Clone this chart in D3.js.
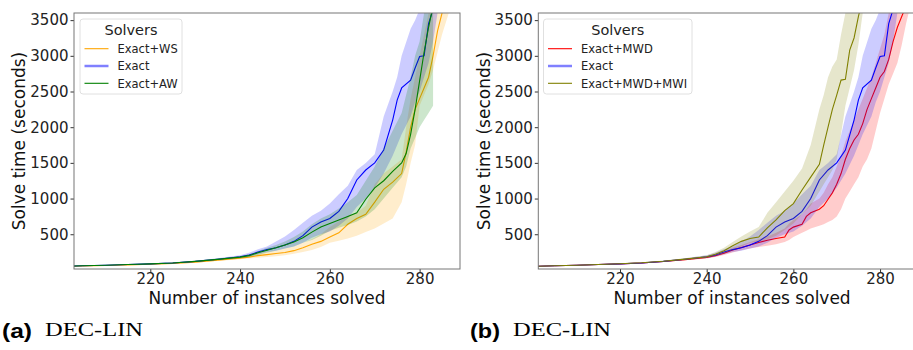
<!DOCTYPE html>
<html lang="en">
<head>
<meta charset="UTF-8">
<title>Solve time vs instances solved</title>
<script src="https://d3js.org/d3.v7.min.js"></script>
<style>
  body { margin: 0; background: #fff; }
  svg { display: block; font-family: "DejaVu Sans", sans-serif; }
  .tick text { font-size: 15px; fill: #222; font-family: "DejaVu Sans", sans-serif; }
  .tick line { stroke: #333; }
  .domain { display: none; }
</style>
</head>
<body>
<svg id="chart" width="913" height="350"></svg>
<script>
// ---- data ----
const yTicks = [500, 1000, 1500, 2000, 2500, 3000, 3500];
const xTicks = [220, 240, 260, 280];

// Exact (shared by both panels)
const exactX    = [200, 205, 210, 215, 220, 225, 230, 235, 240, 242, 244, 246, 248, 250, 252, 254, 256, 258, 260, 262, 264, 266, 268, 270, 272, 274, 275, 276, 278, 279, 280, 281, 282, 283, 284];
const exactMean = [50, 58, 66, 75, 85, 98, 120, 150, 185, 210, 250, 285, 310, 350, 400, 480, 600, 670, 720, 820, 1000, 1260, 1400, 1500, 1680, 2100, 2380, 2550, 2660, 2830, 2990, 3000, 3450, 3650, 3800];
const exactHi   = [52, 61, 70, 80, 92, 106, 130, 165, 205, 240, 290, 330, 400, 470, 560, 660, 760, 830, 930, 1060, 1180, 1400, 1500, 1620, 2150, 2500, 2700, 3000, 3380, 3500, 3650, 3800, 3900, 4000, 4100];
const exactLo   = [48, 55, 62, 70, 79, 90, 110, 138, 168, 185, 220, 250, 270, 300, 330, 380, 450, 500, 540, 620, 720, 880, 1000, 1150, 1350, 1600, 1750, 1900, 2150, 2350, 2500, 2700, 2900, 3200, 3600];

// Exact+WS
const wsX    = [200, 205, 210, 215, 220, 225, 230, 235, 240, 242, 244, 246, 248, 250, 252, 254, 256, 258, 260, 262, 264, 266, 268, 270, 272, 274, 276, 277, 278, 279, 280, 281, 282, 283, 284, 285, 286, 287];
const wsMean = [48, 55, 62, 70, 80, 92, 110, 138, 165, 180, 200, 215, 230, 245, 270, 310, 360, 400, 460, 520, 640, 720, 780, 950, 1130, 1230, 1350, 1650, 2000, 2250, 2400, 2550, 2700, 3000, 3350, 3600, 3800, 3900];
const wsHi   = [51, 59, 67, 76, 87, 100, 120, 150, 180, 200, 225, 250, 270, 300, 330, 380, 430, 500, 600, 680, 760, 800, 900, 1200, 1350, 1450, 1550, 2000, 2400, 2700, 3000, 3300, 3600, 3800, 3900, 4000, 4000, 4000];
const wsLo   = [45, 52, 58, 65, 74, 85, 100, 125, 150, 160, 170, 180, 190, 205, 225, 250, 280, 320, 380, 410, 440, 480, 530, 580, 650, 720, 950, 1200, 1500, 1750, 2300, 2450, 2600, 2800, 3050, 3300, 3500, 3700];

// Exact+AW
const awX    = [200, 205, 210, 215, 220, 225, 230, 235, 240, 242, 244, 246, 248, 250, 252, 254, 256, 258, 260, 262, 264, 266, 268, 270, 272, 274, 276, 277, 278, 279, 280, 281, 282, 283];
const awMean = [50, 58, 66, 75, 85, 98, 120, 148, 180, 200, 240, 275, 310, 350, 390, 450, 530, 600, 650, 700, 750, 800, 990, 1150, 1250, 1380, 1500, 1630, 1900, 2250, 2650, 3050, 3400, 3700];
const awHi   = [52, 61, 70, 80, 91, 105, 128, 160, 195, 220, 265, 310, 350, 400, 460, 540, 640, 720, 780, 860, 950, 1050, 1250, 1450, 1700, 1950, 2200, 2450, 2700, 3000, 3200, 3600, 3900, 4000];
const awLo   = [48, 55, 62, 70, 79, 91, 112, 138, 165, 180, 210, 240, 270, 300, 330, 380, 420, 480, 550, 590, 630, 680, 750, 850, 1000, 1150, 1300, 1450, 1700, 1850, 2000, 2100, 2200, 2300];

// Exact+MWD
const mwdX    = [200, 205, 210, 215, 220, 225, 230, 235, 240, 242, 244, 246, 248, 250, 252, 254, 256, 258, 259, 260, 262, 263, 264, 266, 267, 268, 269, 270, 271, 272, 273, 274, 275, 276, 277, 278, 279, 280, 281, 282, 283, 284, 285, 286, 287];
const mwdMean = [50, 58, 66, 75, 85, 98, 118, 145, 175, 200, 235, 280, 315, 350, 385, 415, 440, 460, 560, 600, 640, 750, 800, 850, 900, 990, 1080, 1200, 1350, 1550, 1700, 1820, 1900, 2050, 2250, 2400, 2550, 2700, 2780, 2950, 3200, 3400, 3550, 3700, 3850];
const mwdHi   = [52, 61, 70, 80, 91, 105, 126, 156, 190, 220, 260, 310, 350, 390, 430, 470, 520, 580, 650, 700, 780, 850, 930, 1000, 1080, 1200, 1300, 1450, 1600, 1800, 1950, 2100, 2250, 2400, 2550, 2700, 2900, 3100, 3300, 3600, 3800, 3900, 4000, 4000, 4000];
const mwdLo   = [48, 55, 62, 70, 79, 91, 110, 135, 160, 180, 210, 245, 275, 300, 320, 340, 360, 390, 420, 460, 520, 550, 580, 620, 640, 670, 700, 750, 850, 1000, 1100, 1200, 1300, 1450, 1550, 1700, 1950, 2200, 2400, 2600, 2750, 2900, 3150, 3450, 3700];

// Exact+MWD+MWI
const mwiX    = [200, 205, 210, 215, 220, 225, 230, 235, 240, 242, 244, 246, 248, 250, 252, 254, 256, 258, 260, 262, 264, 266, 267, 268, 269, 270, 271, 272, 273, 274, 275, 276];
const mwiMean = [50, 58, 66, 75, 86, 100, 122, 152, 185, 220, 270, 340, 400, 440, 460, 590, 700, 830, 930, 1120, 1300, 1480, 1750, 2000, 2250, 2450, 2660, 2670, 3080, 3250, 3550, 3800];
const mwiHi   = [52, 61, 70, 80, 92, 107, 132, 165, 205, 250, 310, 390, 470, 540, 600, 800, 950, 1100, 1250, 1420, 1750, 2250, 2450, 2700, 2850, 2950, 3300, 3600, 3800, 4000, 4000, 4000];
const mwiLo   = [48, 55, 62, 70, 80, 93, 112, 140, 168, 195, 230, 280, 330, 380, 400, 430, 480, 560, 650, 780, 900, 1100, 1200, 1300, 1400, 1550, 1900, 2300, 2550, 2800, 3150, 3600];

function series(name, color, legendColor, legendWidth, xs, mean, lo, hi) {
  return {
    name, color, legendColor, legendWidth,
    pts: xs.map((x, i) => ({ x: x, m: mean[i], lo: lo[i], hi: hi[i] }))
  };
}

const svg = d3.select("#chart");

function drawPanel(p) {
  const x = d3.scaleLinear().domain(p.xDomain).range([p.left, p.right]);
  const y = d3.scaleLinear().domain([13, 3600]).range([269, 13]);

  const g = svg.append("g");
  const clipId = "clip" + p.id;
  svg.append("clipPath").attr("id", clipId)
    .append("rect")
    .attr("x", p.left).attr("y", 13)
    .attr("width", p.right - p.left).attr("height", 256);

  const plot = g.append("g").attr("clip-path", `url(#${clipId})`);

  const area = d3.area().x(d => x(d.x)).y0(d => y(d.lo)).y1(d => y(d.hi));
  const line = d3.line().x(d => x(d.x)).y(d => y(d.m));

  p.series.forEach(s => {
    plot.append("path").attr("d", area(s.pts))
      .attr("fill", s.color).attr("fill-opacity", 0.2);
    plot.append("path").attr("d", line(s.pts))
      .attr("fill", "none").attr("stroke", s.color).attr("stroke-width", 1.1);
  });

  // axes
  g.append("g").attr("transform", "translate(0,269)")
    .call(d3.axisBottom(x).tickValues(xTicks).tickFormat(d3.format("d")).tickSize(3.5).tickPadding(1));
  g.append("g").attr("transform", `translate(${p.left},0)`)
    .call(d3.axisLeft(y).tickValues(yTicks).tickFormat(d3.format("d")).tickSize(3.5).tickPadding(2));

  // spines
  g.append("rect")
    .attr("x", p.left).attr("y", 13)
    .attr("width", p.right - p.left).attr("height", 256)
    .attr("fill", "none").attr("stroke", "#777").attr("stroke-width", 1);

  // axis titles
  g.append("text")
    .attr("x", (p.left + p.right) / 2).attr("y", 304)
    .attr("text-anchor", "middle").attr("font-size", 17).attr("fill", "#111")
    .text("Number of instances solved");
  g.append("text")
    .attr("transform", `translate(${p.yLabelX},141) rotate(-90)`)
    .attr("text-anchor", "middle").attr("font-size", 17).attr("fill", "#111")
    .text("Solve time (seconds)");

  // legend
  const lg = g.append("g");
  lg.append("rect")
    .attr("x", p.legX).attr("y", 19)
    .attr("width", p.legW).attr("height", 75).attr("rx", 3)
    .attr("fill", "#fff").attr("fill-opacity", 0.8)
    .attr("stroke", "#d8d8d8").attr("stroke-width", 0.8);
  lg.append("text")
    .attr("x", p.legX + p.legW / 2).attr("y", 35)
    .attr("text-anchor", "middle").attr("font-size", 14.5).attr("fill", "#222")
    .text("Solvers");
  p.series.forEach((s, i) => {
    const ly = 48.7 + i * 17.3;
    lg.append("line")
      .attr("x1", p.legX + 4.5).attr("x2", p.legX + 28.5)
      .attr("y1", ly).attr("y2", ly)
      .attr("stroke", s.legendColor).attr("stroke-width", s.legendWidth);
    lg.append("text")
      .attr("x", p.legX + 37.5).attr("y", ly + 4.2)
      .attr("font-size", 11.5).attr("fill", "#222")
      .text(s.name);
  });

  // caption
  svg.append("text")
    .attr("x", p.capX).attr("y", 338)
    .attr("font-family", "Liberation Sans, sans-serif").attr("font-weight", "bold")
    .attr("font-size", 20).attr("textLength", 30).attr("lengthAdjust", "spacingAndGlyphs")
    .text(p.tag);
  svg.append("text")
    .attr("x", p.capX + 43).attr("y", 335.5)
    .attr("font-family", "Liberation Serif, serif")
    .attr("font-size", 18).attr("textLength", 98).attr("lengthAdjust", "spacingAndGlyphs")
    .text("DEC-LIN");
}

drawPanel({
  id: "a", tag: "(a)", left: 74, right: 460, xDomain: [203, 289],
  yLabelX: 25, legX: 80, legW: 102, capX: 2,
  series: [
    series("Exact+WS", "#ffa500", "#ffa500", 1.1, wsX, wsMean, wsLo, wsHi),
    series("Exact", "#0000ff", "#8080ff", 2.5, exactX, exactMean, exactLo, exactHi),
    series("Exact+AW", "#008000", "#008000", 1.1, awX, awMean, awLo, awHi)
  ]
});

drawPanel({
  id: "b", tag: "(b)", left: 538.3, right: 926, xDomain: [201.15, 290.6],
  yLabelX: 490, legX: 543.5, legW: 148.5, capX: 470,
  series: [
    series("Exact+MWD", "#ff0000", "#ff0000", 1.1, mwdX, mwdMean, mwdLo, mwdHi),
    series("Exact", "#0000ff", "#8080ff", 2.5, exactX, exactMean, exactLo, exactHi),
    series("Exact+MWD+MWI", "#808000", "#808000", 1.1, mwiX, mwiMean, mwiLo, mwiHi)
  ]
});
</script>
</body>
</html>
